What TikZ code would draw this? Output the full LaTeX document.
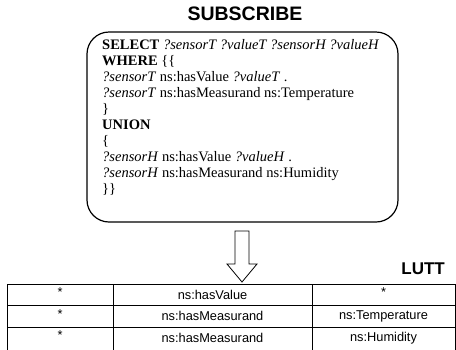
\documentclass[tikz,border=0pt]{standalone}
\usepackage{fontspec}
\setmainfont{Liberation Serif}
\newfontfamily\arialfont{Liberation Sans}
\begin{document}
\begin{tikzpicture}[x=1pt,y=-1pt,
  qline/.style={anchor=base west, inner sep=0pt, font=\fontsize{14.5}{16}\selectfont},
  cell/.style={inner sep=0pt, font=\arialfont\fontsize{12.8}{15}\selectfont},
  heading/.style={inner sep=0pt, font=\arialfont\bfseries\fontsize{19.5}{21}\selectfont},
  grid/.style={line width=0.8pt, draw=black}]
\useasboundingbox (0,0) rectangle (456,349);
% title
\node[heading] (title) at (245,14) {SUBSCRIBE};
% query box
\node[draw, line width=1.2pt, rounded corners=22pt, minimum width=311pt, minimum height=190pt, inner sep=0pt] (qbox) at (242.5,127) {};
\node[qline] (l1) at (102,49) {\textbf{SELECT} \textit{?sensorT ?valueT ?sensorH ?valueH}};
\node[qline] (l2) at (102,65.1) {\textbf{WHERE} \{\{};
\node[qline] (l3) at (102,81.2) {\textit{?sensorT} ns:hasValue \textit{?valueT} .};
\node[qline] (l4) at (102,97.3) {\textit{?sensorT} ns:hasMeasurand ns:Temperature};
\node[qline] (l5) at (102,113.4) {\}};
\node[qline] (l6) at (102,129.5) {\textbf{UNION}};
\node[qline] (l7) at (102,145.6) {\{};
\node[qline] (l8) at (102,161.7) {\textit{?sensorH} ns:hasValue \textit{?valueH} .};
\node[qline] (l9) at (102,177.8) {\textit{?sensorH} ns:hasMeasurand ns:Humidity};
\node[qline] (l10) at (102,193.9) {\}\}};
% block arrow
\draw[line width=0.8pt, fill=white] (235,231) -- (249,231) -- (249,264) -- (257,264) -- (242,282) -- (227,264) -- (235,264) -- cycle;
% LUTT label
\node[heading, font=\arialfont\bfseries\fontsize{17}{19}\selectfont, anchor=east] (lutt) at (445,269) {LUTT};
% table
\draw[grid] (7,284) -- (455,284);
\draw[grid] (7,305.5) -- (455,305.5);
\draw[grid] (7,327) -- (455,327);
\draw[grid] (7,284) -- (7,352);
\draw[grid] (113,284) -- (113,352);
\draw[grid] (312,284) -- (312,352);
\draw[grid] (455,284) -- (455,352);
\node[cell] (c11) at (60,292.5) {*};
\node[cell] (c12) at (212.5,294.7) {ns:hasValue};
\node[cell] (c13) at (383.5,292.5) {*};
\node[cell] (c21) at (60,314) {*};
\node[cell] (c22) at (212.5,316.2) {ns:hasMeasurand};
\node[cell] (c23) at (383.5,316.2) {ns:Temperature};
\node[cell] (c31) at (60,335.5) {*};
\node[cell] (c32) at (212.5,337.7) {ns:hasMeasurand};
\node[cell] (c33) at (383.5,337.7) {ns:Humidity};
\end{tikzpicture}
\end{document}
